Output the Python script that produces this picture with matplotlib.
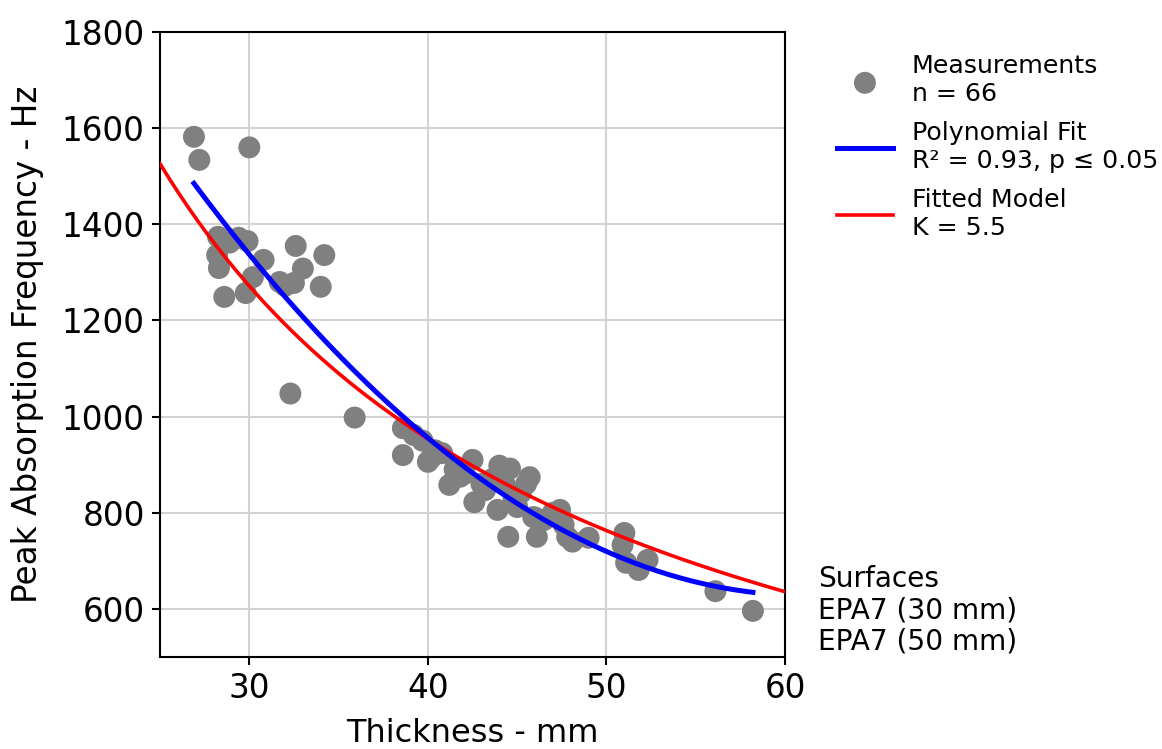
import numpy as np
import matplotlib
matplotlib.use("Agg")
import matplotlib.pyplot as plt

# thickness (mm) and peak absorption frequency (Hz)
thickness = [26.9, 27.2, 30.0, 28.25, 28.2, 28.3, 29.4, 29.9, 30.8, 30.2,
             29.8, 28.6, 32.6, 34.2, 33.0, 31.7, 32.5, 34.0, 32.3, 35.9,
             28.9, 32.0,
             38.6, 38.6, 39.2, 39.7, 40.0, 40.4, 40.8, 41.2, 41.5, 41.8,
             42.5, 42.6, 43.2, 43.6, 43.9, 44.0, 44.3, 44.6, 44.5, 45.0,
             45.2, 45.5, 45.7, 45.9, 46.1, 46.5, 47.0, 47.4, 47.8, 47.6,
             48.1, 49.0, 44.8, 42.0, 46.0,
             51.0, 50.9, 51.1, 51.8, 52.3, 56.1, 58.2, 43.0, 40.2]
peak_freq = [1582, 1534, 1560, 1374, 1336, 1309, 1372, 1365, 1326, 1290,
             1257, 1249, 1355, 1336, 1308, 1280, 1278, 1270, 1048, 998,
             1362, 1272,
             976, 920, 962, 950, 906, 930, 924, 858, 890, 875,
             910, 822, 847, 870, 806, 898, 860, 892, 750, 812,
             841, 860, 874, 791, 750, 785, 800, 806, 750, 775,
             740, 748, 830, 880, 790,
             758, 733, 696, 681, 702, 637, 596, 860, 915]

# fitted model f = C / d
model_const = 38150.0
model_K = 5.5

x = np.array(thickness)
y = np.array(peak_freq)

fig = plt.figure(figsize=(11.62, 7.49), dpi=100)
ax = fig.add_axes([0.1377, 0.1228, 0.5379, 0.8345])

ax.grid(True, color="#d3d3d3", linewidth=1.5, zorder=0)
ax.set_axisbelow(True)

ax.scatter(x, y, s=250, color="grey", edgecolors="none", zorder=2,
           label="Measurements\nn = 66")

coef = np.polyfit(x, y, 2)
xp = np.linspace(x.min(), x.max(), 200)
ax.plot(xp, np.polyval(coef, xp), color="blue", linewidth=3.6, zorder=4,
        label="Polynomial Fit\nR\u00b2 = 0.93, p \u2264 0.05")

xm = np.linspace(25, 60, 200)
ax.plot(xm, model_const / xm, color="red", linewidth=2.6, zorder=3,
        label="Fitted Model\nK = " + str(model_K))

ax.set_xlim(25, 60)
ax.set_ylim(500, 1800)
ax.set_xticks([30, 40, 50, 60])
ax.set_yticks([600, 800, 1000, 1200, 1400, 1600, 1800])
ax.tick_params(labelsize=23.5, width=1.5, length=6, pad=5)
for sp in ax.spines.values():
    sp.set_linewidth(1.5)

ax.set_xlabel("Thickness - mm", fontsize=23, labelpad=9)
ax.set_ylabel("Peak Absorption Frequency - Hz", fontsize=23.5, labelpad=13)

ax.legend(loc="upper left", bbox_to_anchor=(1.055, 0.993), frameon=False,
          fontsize=18.2, handlelength=2.2, labelspacing=0.6, handletextpad=0.75,
          borderaxespad=0.3)

fig.text(0.704, 0.125, "Surfaces\nEPA7 (30 mm)\nEPA7 (50 mm)", fontsize=20.2,
         ha="left", va="bottom", linespacing=1.15)

fig.savefig("out.png", dpi=100)
